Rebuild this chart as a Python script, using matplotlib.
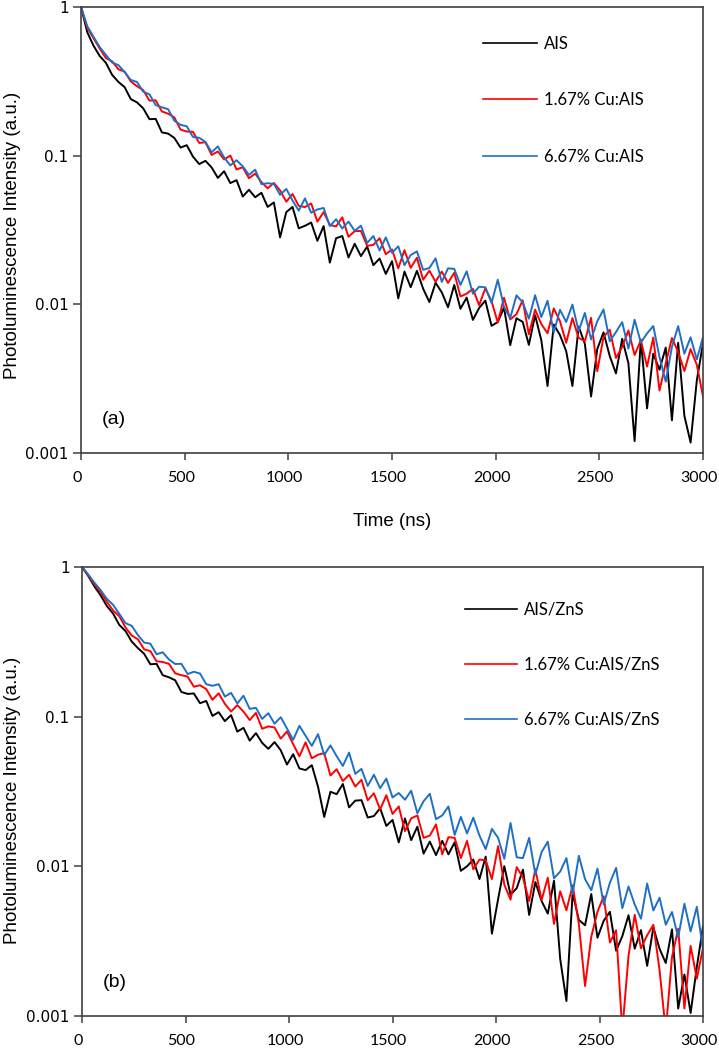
#!/usr/bin/env python3
"""
Time-resolved PL decay of AIS and Cu:AIS nanocrystals, cores (a) and
core/shell AIS/ZnS (b). Two stacked log-scale panels saved to out.png.
"""

import numpy as np
import matplotlib
matplotlib.use("Agg")
import matplotlib.pyplot as plt
import matplotlib.transforms as mtransforms

# Decay traces every 30 ns (0 ... 3000 ns),
# stored as log10 of the normalised PL intensity.
time_ns = np.arange(0, 3001, 30)

# panel (a): cores
ais_a = [
    0.0, -0.17, -0.26, -0.33, -0.376, -0.457, -0.504, -0.539, -0.620, -0.642,
    -0.682, -0.755, -0.753, -0.844, -0.852, -0.881, -0.946, -0.930, -1.007, -1.057,
    -1.035, -1.080, -1.150, -1.105, -1.185, -1.165, -1.275, -1.230, -1.280, -1.250,
    -1.345, -1.315, -1.55, -1.380, -1.345, -1.489, -1.472, -1.450, -1.573, -1.474,
    -1.72, -1.556, -1.541, -1.685, -1.593, -1.676, -1.612, -1.737, -1.692, -1.796,
    -1.710, -1.96, -1.780, -1.885, -1.775, -1.895, -1.985, -1.855, -1.920, -2.020,
    -1.870, -2.030, -1.955, -2.105, -2.025, -1.975, -2.145, -2.119, -2.022, -2.275,
    -2.094, -2.118, -2.273, -2.073, -2.242, -2.55, -2.136, -2.207, -2.315, -2.55,
    -2.15, -2.266, -2.62, -2.30, -2.189, -2.348, -2.465, -2.232, -2.396, -2.92,
    -2.238, -2.70, -2.332, -2.440, -2.291, -2.78, -2.259, -2.75, -2.93, -2.512,
    -2.260]
cu167_a = [
    0.0, -0.14, -0.21, -0.28, -0.344, -0.366, -0.419, -0.435, -0.501, -0.533,
    -0.560, -0.630, -0.628, -0.703, -0.718, -0.743, -0.825, -0.838, -0.840, -0.915,
    -0.910, -0.996, -0.972, -1.026, -1.000, -1.093, -1.078, -1.152, -1.121, -1.178,
    -1.220, -1.184, -1.234, -1.310, -1.258, -1.338, -1.346, -1.322, -1.444, -1.380,
    -1.466, -1.477, -1.415, -1.546, -1.508, -1.507, -1.607, -1.600, -1.556, -1.663,
    -1.631, -1.758, -1.636, -1.755, -1.687, -1.835, -1.774, -1.848, -1.780, -1.856,
    -1.788, -1.947, -1.929, -1.896, -2.006, -1.893, -1.979, -2.123, -1.956, -2.102,
    -2.067, -1.973, -2.202, -2.036, -2.133, -2.195, -2.028, -2.114, -2.259, -2.093,
    -2.226, -2.248, -2.091, -2.45, -2.220, -2.171, -2.361, -2.287, -2.176, -2.341,
    -2.242, -2.419, -2.224, -2.58, -2.398, -2.227, -2.320, -2.449, -2.302, -2.407,
    -2.62]
cu667_a = [
    0.0, -0.13, -0.20, -0.27, -0.323, -0.374, -0.391, -0.438, -0.491, -0.505,
    -0.570, -0.588, -0.660, -0.675, -0.688, -0.765, -0.793, -0.803, -0.875, -0.880,
    -0.908, -0.978, -0.938, -1.012, -1.066, -1.031, -1.072, -1.130, -1.095, -1.192,
    -1.186, -1.190, -1.264, -1.224, -1.302, -1.370, -1.288, -1.384, -1.362, -1.352,
    -1.474, -1.428, -1.490, -1.444, -1.506, -1.471, -1.587, -1.541, -1.638, -1.550,
    -1.654, -1.610, -1.737, -1.669, -1.644, -1.768, -1.756, -1.691, -1.850, -1.758,
    -1.762, -1.870, -1.778, -1.929, -1.882, -1.886, -1.991, -1.835, -2.018, -2.093,
    -1.940, -1.986, -2.097, -1.939, -2.086, -1.976, -2.190, -2.037, -2.119, -2.002,
    -2.180, -2.058, -2.236, -2.114, -2.035, -2.249, -2.187, -2.120, -2.298, -2.104,
    -2.258, -2.196, -2.146, -2.355, -2.52, -2.286, -2.147, -2.332, -2.222, -2.371,
    -2.220]

# panel (b): core/shell
ais_b = [
    0.0, -0.06, -0.13, -0.19, -0.261, -0.311, -0.387, -0.428, -0.498, -0.542,
    -0.580, -0.650, -0.647, -0.723, -0.737, -0.757, -0.835, -0.848, -0.845, -0.910,
    -0.895, -0.995, -0.970, -1.030, -0.990, -1.100, -1.075, -1.160, -1.110, -1.175,
    -1.215, -1.170, -1.225, -1.320, -1.251, -1.346, -1.357, -1.324, -1.468, -1.67,
    -1.502, -1.518, -1.450, -1.606, -1.561, -1.558, -1.674, -1.664, -1.612, -1.730,
    -1.690, -1.840, -1.680, -1.825, -1.735, -1.915, -1.835, -1.925, -1.830, -1.920,
    -1.840, -2.030, -2.000, -1.955, -2.085, -1.935, -2.45, -2.219, -1.999, -2.190,
    -2.146, -2.022, -2.325, -2.105, -2.232, -2.316, -2.096, -2.62, -2.90, -2.178,
    -2.358, -2.394, -2.185, -2.477, -2.364, -2.304, -2.564, -2.467, -2.327, -2.550,
    -2.426, -2.665, -2.408, -2.551, -2.646, -2.421, -2.95, -2.723, -2.98, -2.673,
    -2.40]
cu167_b = [
    0.0, -0.055, -0.115, -0.17, -0.232, -0.291, -0.328, -0.404, -0.458, -0.483,
    -0.550, -0.562, -0.630, -0.635, -0.647, -0.710, -0.723, -0.732, -0.800, -0.790,
    -0.816, -0.887, -0.844, -0.914, -0.966, -0.923, -0.966, -1.023, -0.975, -1.081,
    -1.065, -1.072, -1.147, -1.099, -1.184, -1.265, -1.171, -1.278, -1.254, -1.244,
    -1.393, -1.351, -1.430, -1.388, -1.467, -1.422, -1.559, -1.512, -1.621, -1.525,
    -1.650, -1.600, -1.765, -1.680, -1.660, -1.810, -1.795, -1.720, -1.920, -1.805,
    -1.810, -1.945, -1.830, -2.020, -1.955, -1.960, -2.085, -1.865, -2.123, -2.223,
    -2.005, -2.076, -2.232, -2.019, -2.226, -2.076, -2.385, -2.167, -2.294, -2.127,
    -2.385, -2.80, -2.471, -2.304, -2.200, -2.509, -2.427, -3.1, -2.598, -2.324,
    -2.548, -2.461, -2.391, -2.695, -3.1, -2.606, -2.417, -2.95, -2.532, -2.751,
    -2.545]
cu667_b = [
    0.0, -0.05, -0.105, -0.155, -0.213, -0.253, -0.313, -0.375, -0.393, -0.455,
    -0.505, -0.512, -0.583, -0.570, -0.618, -0.648, -0.647, -0.715, -0.700, -0.712,
    -0.783, -0.794, -0.783, -0.866, -0.841, -0.912, -0.860, -0.948, -0.941, -1.015,
    -0.977, -1.047, -1.004, -1.079, -1.155, -1.061, -1.128, -1.195, -1.117, -1.256,
    -1.192, -1.264, -1.329, -1.240, -1.382, -1.349, -1.463, -1.388, -1.478, -1.414,
    -1.540, -1.510, -1.555, -1.495, -1.645, -1.565, -1.515, -1.685, -1.660, -1.600,
    -1.790, -1.670, -1.780, -1.675, -1.795, -1.885, -1.750, -1.810, -1.950, -1.710,
    -1.940, -1.945, -1.810, -2.055, -1.905, -1.835, -2.080, -2.035, -1.945, -2.185,
    -1.930, -2.085, -2.160, -2.015, -2.255, -2.110, -2.010, -2.280, -2.135, -2.255,
    -2.350, -2.115, -2.295, -2.210, -2.390, -2.305, -2.475, -2.250, -2.435, -2.270,
    -2.560]

labels_a = ["AIS", "1.67% Cu:AIS", "6.67% Cu:AIS"]
labels_b = ["AIS/ZnS", "1.67% Cu:AIS/ZnS", "6.67% Cu:AIS/ZnS"]
colors = ["#000000", "#ff0000", "#1f6fc6"]
x_ticks = [0, 500, 1000, 1500, 2000, 2500, 3000]
y_ticks = [0.001, 0.01, 0.1, 1]
y_ticklabels = ["0.001", "0.01", "0.1", "1"]

AXIS_GREY = "#404040"


def draw_panel(fig, ax, traces, labels, tag, legend_xy, spacing, handle_len):
    """Draw three decay traces on a log axis with a frameless legend."""
    for trace, label, color in zip(traces, labels, colors):
        ax.plot(time_ns, 10.0 ** np.asarray(trace), color=color, lw=1.4, label=label)

    ax.set_yscale("log")
    ax.set_xlim(0, 3000)
    ax.set_ylim(0.001, 1)
    ax.set_xticks(x_ticks)
    ax.set_xticklabels([str(t) for t in x_ticks], fontfamily="Lato", fontsize=11.5)
    ax.set_yticks(y_ticks)
    ax.set_yticklabels(y_ticklabels, fontfamily="DejaVu Sans", fontsize=11)
    ax.minorticks_off()
    ax.tick_params(axis="x", direction="out", length=5, width=1.1, color=AXIS_GREY, pad=8)
    ax.tick_params(axis="y", direction="out", length=5.5, width=1.1, color=AXIS_GREY, pad=3.5)
    for spine in ax.spines.values():
        spine.set_color(AXIS_GREY)
        spine.set_linewidth(1.2)

    # x tick labels sit a little left of their ticks in the original
    shift = mtransforms.ScaledTranslation(-4 / 100, 0, fig.dpi_scale_trans)
    for lbl in ax.get_xticklabels():
        lbl.set_transform(lbl.get_transform() + shift)

    ax.text(0.033, 0.075, tag, transform=ax.transAxes, fontsize=14,
            fontfamily="Liberation Sans", ha="left", va="center")

    leg = ax.legend(loc="upper left", bbox_to_anchor=legend_xy, frameon=False,
                    borderpad=0, borderaxespad=0, handlelength=handle_len,
                    handletextpad=0.42, labelspacing=spacing,
                    prop={"family": "Lato", "size": 12})
    for line in leg.get_lines():
        line.set_linewidth(1.2)


fig = plt.figure(figsize=(7.19, 10.5), dpi=100)

ax_a = fig.add_axes([0.1127, 0.5686, 0.8651, 0.4248])
draw_panel(fig, ax_a, [ais_a, cu167_a, cu667_a], labels_a, "(a)",
           (0.646, 0.9354), 2.43, 3.23)
ax_a.set_xlabel("Time (ns)", fontfamily="Liberation Sans", fontsize=13.5, labelpad=20)

ax_b = fig.add_axes([0.1141, 0.0324, 0.8637, 0.4276])
draw_panel(fig, ax_b, [ais_b, cu167_b, cu667_b], labels_b, "(b)",
           (0.617, 0.9225), 2.34, 3.1)

ylabel = "Photoluminescence Intensity (a.u.)"
fig.text(13 / 719, 1 - 235 / 1050, ylabel, rotation=90, ha="center", va="center",
         fontfamily="Liberation Sans", fontsize=13.5)
fig.text(13 / 719, 1 - 800 / 1050, ylabel, rotation=90, ha="center", va="center",
         fontfamily="Liberation Sans", fontsize=13.5)

fig.savefig("out.png", dpi=100)
plt.close(fig)
